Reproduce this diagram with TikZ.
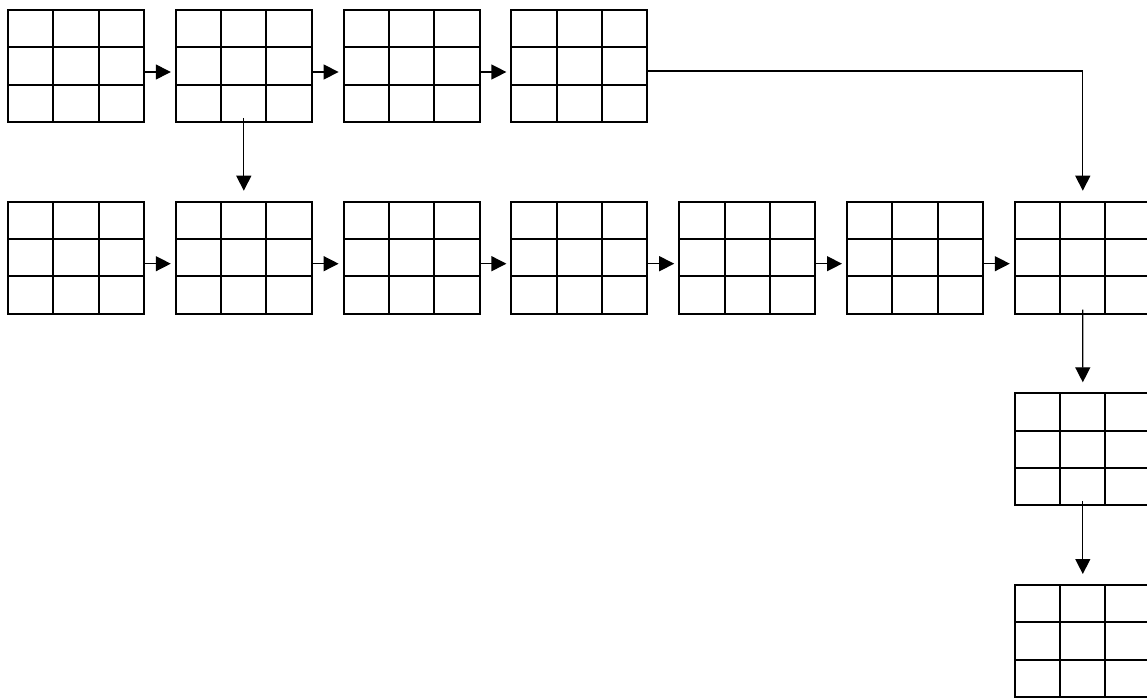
\documentclass[tikz,border=0pt]{standalone}
\usetikzlibrary{arrows.meta,calc}
\tikzset{
  gridbox/.style={draw, line width=1.5pt, minimum width=102pt, minimum height=84pt,
    inner sep=0pt, outer sep=0pt, anchor=north west,
    path picture={
      \foreach \f in {1,2} {
        \draw[line width=1.5pt] ($(path picture bounding box.north west)!\f/3!(path picture bounding box.north east)$) -- ($(path picture bounding box.south west)!\f/3!(path picture bounding box.south east)$);
        \draw[line width=1.5pt] ($(path picture bounding box.north west)!\f/3!(path picture bounding box.south west)$) -- ($(path picture bounding box.north east)!\f/3!(path picture bounding box.south east)$);
      }
    }},
  link/.style={line width=1pt, -{Triangle[length=11.25pt,width=11.25pt]}},
  hlink/.style={link, shorten >=3.75pt},
  vlink/.style={link, shorten >=8.25pt}
}
\begin{document}
\begin{tikzpicture}[x=0.75pt,y=-0.75pt]
\useasboundingbox (0,0) rectangle (1147,699);
\clip (0,0) rectangle (1147,699);
% top row
\foreach \i in {1,...,4} {
  \node[gridbox] (t\i) at ({8+167.8*(\i-1)},10) {};
}
% middle row
\foreach \i in {1,...,7} {
  \node[gridbox] (m\i) at ({8+167.8*(\i-1)},201.7) {};
}
% column on the right
\node[gridbox] (c3) at (1014.8,393.3) {};
\node[gridbox] (c4) at (1014.8,585) {};
% top row arrows
\foreach \a/\b in {t1/t2,t2/t3,t3/t4} {
  \draw[hlink] ([yshift=-4.5pt]\a.east) -- ([yshift=-4.5pt]\b.west);
}
% middle row arrows
\foreach \a/\b in {m1/m2,m2/m3,m3/m4,m4/m5,m5/m6,m6/m7} {
  \draw[hlink] ([yshift=-4.5pt]\a.east) -- ([yshift=-4.5pt]\b.west);
}
% vertical arrows
\draw[vlink] ([yshift=3pt]t2.south) -- (m2.north);
\draw[vlink] ([yshift=-3.75pt]t4.east) -| (m7.north);
\draw[vlink] ([yshift=3pt]m7.south) -- (c3.north);
\draw[vlink] ([yshift=3pt]c3.south) -- (c4.north);
\end{tikzpicture}
\end{document}
